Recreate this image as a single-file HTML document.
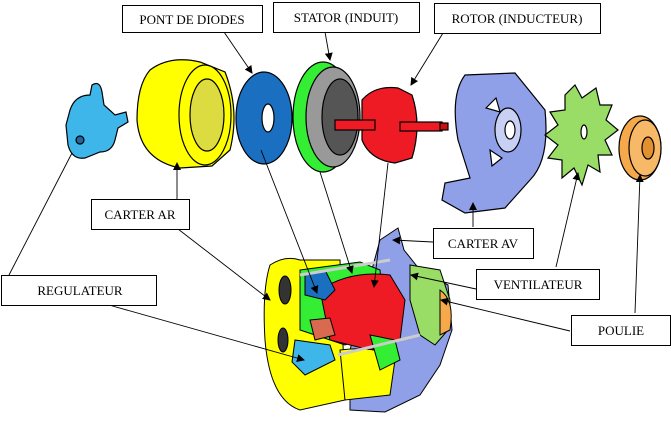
<!DOCTYPE html>
<html><head><meta charset="utf-8"><style>
html,body{margin:0;padding:0;background:#fff;}
svg{display:block;}
text{font-family:"Liberation Serif",serif;font-size:13px;fill:#000;}
</style></head><body>
<svg width="671" height="432" viewBox="0 0 671 432" xmlns="http://www.w3.org/2000/svg">
<defs>
<marker id="a" markerWidth="8" markerHeight="8" refX="7" refY="4" orient="auto" markerUnits="userSpaceOnUse">
<path d="M0,0 L8,4 L0,8 z" fill="#000"/></marker>
</defs>

<!-- Regulator -->
<g stroke="#000" stroke-width="1.2">
<path d="M70,110 Q75,95 90,95 L92,85 Q100,80 102,92 L104,105 L115,115 L126,112 L128,122 L118,128 L115,140 Q112,152 100,152 L85,158 Q72,160 68,145 L66,125 z" fill="#3fb6ea"/>
<circle cx="80" cy="140" r="4" fill="#1a6aa0"/>
<!-- Yellow carter AR -->
<path d="M150,70 Q170,55 200,62 L225,72 Q240,110 230,150 L212,166 L180,168 Q140,160 137,120 Q137,85 150,70z" fill="#ffff00"/>
<ellipse cx="205" cy="115" rx="26" ry="50" fill="#ffff00"/>
<ellipse cx="207" cy="115" rx="17" ry="36" fill="#dcdc40"/>
<!-- Blue diodes -->
<ellipse cx="264" cy="118" rx="28" ry="46" fill="#1a6fc0"/>
<ellipse cx="268" cy="118" rx="6" ry="14" fill="#fff"/>
<!-- Green stator -->
<ellipse cx="323" cy="117" rx="30" ry="55" fill="#33ee33"/>
<ellipse cx="333" cy="117" rx="27" ry="50" fill="#999"/>
<ellipse cx="340" cy="117" rx="18" ry="38" fill="#555"/>
<!-- Red rotor -->
<path d="M362,100 Q375,85 398,88 L412,95 Q422,125 412,158 L395,163 Q370,160 362,140 z" fill="#ee1b24"/>
<rect x="335" y="120" width="40" height="10" fill="#ee1b24"/>
<rect x="400" y="122" width="42" height="9" fill="#ee1b24"/>
<rect x="440" y="123" width="8" height="7" fill="#cc1010"/>
<!-- Carter AV -->
<path d="M465,75 L515,73 L545,110 Q550,160 530,180 L505,208 L465,213 L442,200 L445,183 L470,178 L458,140 Q450,95 465,75z" fill="#8fa0e8"/>
<ellipse cx="508" cy="130" rx="13" ry="22" fill="#c8d0f4"/>
<ellipse cx="510" cy="130" rx="5" ry="9" fill="#fff"/>
<path d="M486,108 l10,-10 l4,14 z M490,150 l12,8 l-10,8 z" fill="#fff"/>
<!-- Fan -->
<path d="M575,85 L582,98 L596,88 L600,105 L612,105 L606,120 L618,130 L605,140 L612,155 L598,155 L600,172 L588,165 L582,185 L574,168 L562,178 L562,160 L548,158 L558,145 L545,135 L558,125 L550,112 L565,110 L565,95z" fill="#99dd66"/>
<ellipse cx="584" cy="132" rx="3" ry="7" fill="#fff"/>
<!-- Pulley -->
<ellipse cx="640" cy="148" rx="21" ry="32" fill="#f5a94a"/>
<ellipse cx="645" cy="148" rx="16" ry="28" fill="#f7b868"/>
<ellipse cx="648" cy="148" rx="6" ry="11" fill="#e09030"/>
</g>

<!-- Assembly -->
<g stroke="#000" stroke-width="1">
<path d="M380,240 L398,228 L404,250 L420,270 L448,285 L452,330 L440,365 L420,395 L385,412 L350,410 L350,350 z" fill="#8fa0e8"/>
<path d="M410,265 L440,270 L450,300 L448,330 L435,345 L420,335 L410,300z" fill="#99dd66"/>
<path d="M440,290 Q455,300 450,330 L440,335z" fill="#f5a94a"/>
<path d="M270,265 Q285,255 300,260 L340,260 L345,400 L300,410 Q270,400 265,340 Q262,290 270,265z" fill="#ffff00"/>
<path d="M300,270 L360,262 L380,270 L385,330 L345,345 L300,330z" fill="#33ee33"/>
<path d="M320,290 Q350,270 390,275 L405,300 L400,340 L370,350 L330,340 z" fill="#ee1b24"/>
<path d="M305,275 L325,270 L335,290 L325,300 L305,295z" fill="#1a6fc0"/>
<path d="M310,320 L330,318 L335,335 L315,340z" fill="#d96a50"/>
<path d="M295,340 L330,345 L335,360 L305,375 L292,362z" fill="#3fb6ea"/>
<path d="M340,350 Q380,345 395,360 L390,395 L345,400z" fill="#ffff00"/>
<path d="M370,335 L395,340 L400,360 L380,370z" fill="#33ee33"/>
<ellipse cx="285" cy="290" rx="6" ry="14" fill="#333"/>
<ellipse cx="283" cy="340" rx="5" ry="12" fill="#333"/>
<line x1="300" y1="275" x2="390" y2="260" stroke="#ccc" stroke-width="3"/>
<line x1="338" y1="355" x2="420" y2="335" stroke="#ccc" stroke-width="3"/>
</g>

<!-- Connectors -->
<g stroke="#000" stroke-width="0.9" fill="none">
<line x1="224" y1="32" x2="252" y2="73" marker-end="url(#a)"/>
<line x1="325" y1="32" x2="330" y2="60" marker-end="url(#a)"/>
<line x1="443" y1="33" x2="411" y2="85" marker-end="url(#a)"/>
<line x1="177" y1="199" x2="177" y2="163" marker-end="url(#a)"/>
<line x1="178" y1="229" x2="270" y2="300" marker-end="url(#a)"/>
<line x1="9" y1="275" x2="72" y2="153"/>
<line x1="109" y1="305" x2="304" y2="360" marker-end="url(#a)"/>
<line x1="261" y1="150" x2="317" y2="293" marker-end="url(#a)"/>
<line x1="320" y1="172" x2="352" y2="273" marker-end="url(#a)"/>
<line x1="388" y1="163" x2="374" y2="287" marker-end="url(#a)"/>
<line x1="473" y1="227" x2="473" y2="203" marker-end="url(#a)"/>
<line x1="433" y1="242" x2="393" y2="240" marker-end="url(#a)"/>
<line x1="556" y1="267" x2="578" y2="173" marker-end="url(#a)"/>
<line x1="476" y1="289" x2="411" y2="275" marker-end="url(#a)"/>
<line x1="635" y1="313" x2="640" y2="175" marker-end="url(#a)"/>
<line x1="570" y1="331" x2="441" y2="300" marker-end="url(#a)"/>
</g>

<!-- Labels -->
<g stroke="#000" stroke-width="1" fill="#fff">
<rect x="122.5" y="5.5" width="140" height="27"/>
<rect x="273.5" y="2.5" width="146" height="30"/>
<rect x="434.5" y="3.5" width="166" height="30"/>
<rect x="91.5" y="199.5" width="98" height="30"/>
<rect x="433.5" y="228.5" width="100" height="30"/>
<rect x="1.5" y="275.5" width="155" height="30"/>
<rect x="476.5" y="269.5" width="123" height="30"/>
<rect x="571.5" y="315.5" width="99" height="30"/>
</g>
<g text-anchor="middle">
<text x="192" y="24">PONT DE DIODES</text>
<text x="346" y="22">STATOR (INDUIT)</text>
<text x="517" y="23">ROTOR (INDUCTEUR)</text>
<text x="140" y="219">CARTER AR</text>
<text x="483" y="248">CARTER AV</text>
<text x="80" y="295">REGULATEUR</text>
<text x="538" y="289">VENTILATEUR</text>
<text x="621" y="335">POULIE</text>
</g>
</svg>
</body></html>
